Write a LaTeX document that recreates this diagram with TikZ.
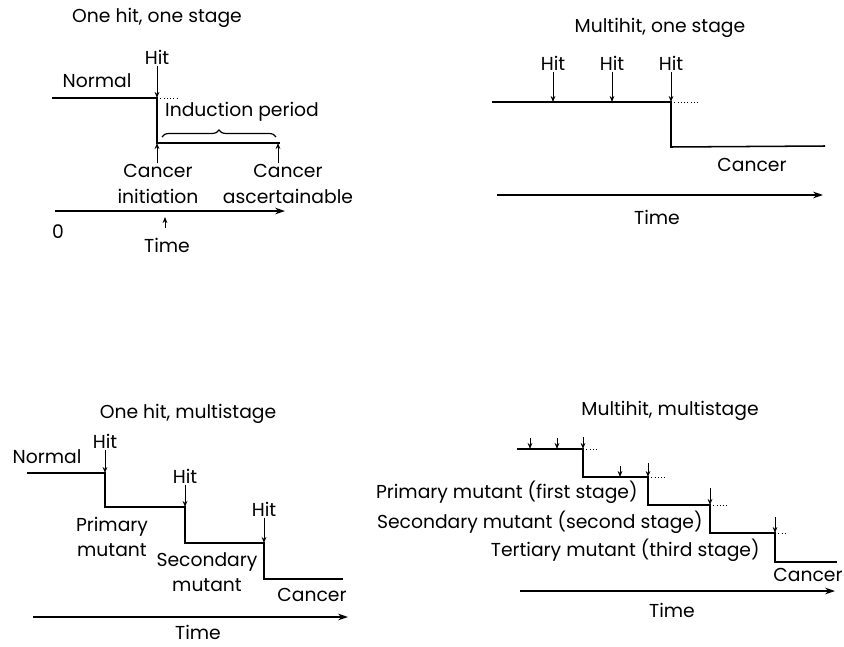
\documentclass[tikz,border=0pt]{standalone}
\usepackage{fontspec}
\setmainfont{Poppins}
\usetikzlibrary{arrows.meta,positioning,decorations.pathreplacing}

\begin{document}
\begin{tikzpicture}[
    x=0.03cm, y=-0.03cm,
    rotulo/.style={font=\fontsize{16}{21.5}\selectfont, align=center, inner sep=1pt},
    nivel/.style={line width=1.3pt},
    pontilhado/.style={dotted, line width=0.8pt},
    impacto/.style={-{Stealth[length=1.8mm, width=1.4mm]}, line width=0.75pt},
    eixo/.style={-{Stealth[length=3mm, width=2mm]}, line width=1.3pt},
    chave/.style={decorate, decoration={brace, amplitude=6pt}, line width=1pt}
]
    \useasboundingbox (0,0) rectangle (844,646);

    % one hit, one stage
    \node[rotulo] (titulo1) at (157,18) {One hit, one stage};
    \node[rotulo] (hit1) at (157,57) {Hit};
    \node[rotulo] (normal1) at (97,81) {Normal};
    \coordinate (n1a) at (52,98);
    \coordinate (n1b) at (157,98);
    \coordinate (c1a) at (157,143);
    \coordinate (c1b) at (280,143);
    \coordinate (asc1) at (278,143);
    \draw[nivel] (n1a) -- (n1b) -- (c1a) -- (c1b);
    \draw[pontilhado] (n1b) -- ++(21,0);
    \draw[impacto] (hit1.south) -- (n1b);
    \draw[chave] (162,137) -- (276,137);
    \node[rotulo] (inducao1) at (242,112) {Induction period};
    \node[rotulo] (inicio1) at (158,184) {Cancer\\initiation};
    \node[rotulo] (verif1) at (288,184) {Cancer\\ascertainable};
    \draw[impacto] (inicio1.north -| c1a) -- (c1a);
    \draw[impacto] (verif1.north -| asc1) -- (asc1);
    \coordinate (t1a) at (55,211);
    \coordinate (t1b) at (285,211);
    \draw[eixo] (t1a) -- (t1b);
    \node[rotulo] (zero1) at (58,232) {0};
    \coordinate (marca1a) at (165,228);
    \coordinate (marca1b) at (165,217);
    \draw[impacto] (marca1a) -- (marca1b);
    \node[rotulo] (tempo1) at (167,245) {Time};

    % multihit, one stage
    \node[rotulo] (titulo2) at (660,28) {Multihit, one stage};
    \foreach \x/\nome in {553/a,612/b,671/c} {
        \node[rotulo] (hit2\nome) at (\x,63) {Hit};
        \coordinate (p2\nome) at (\x,102);
        \draw[impacto] (hit2\nome.south) -- (p2\nome);
    }
    \coordinate (n2a) at (492,102);
    \coordinate (c2a) at (671,147);
    \coordinate (c2b) at (825,146);
    \draw[nivel] (n2a) -- (p2c) -- (c2a) -- (c2b);
    \draw[pontilhado] (p2c) -- ++(27,0);
    \node[rotulo] (cancer2) at (752,165) {Cancer};
    \coordinate (t2a) at (497,195);
    \coordinate (t2b) at (823,195);
    \draw[eixo] (t2a) -- (t2b);
    \node[rotulo] (tempo2) at (657,217) {Time};

    % one hit, multistage
    \node[rotulo] (titulo3) at (188,414) {One hit, multistage};
    \node[rotulo] (normal3) at (47,457) {Normal};
    \node[rotulo] (hit3a) at (105,441) {Hit};
    \node[rotulo] (hit3b) at (185,476) {Hit};
    \node[rotulo] (hit3c) at (264,509) {Hit};
    \coordinate (e3a) at (27,473);
    \coordinate (e3b) at (105,473);
    \coordinate (e3c) at (105,507);
    \coordinate (e3d) at (185,507);
    \coordinate (e3e) at (185,543);
    \coordinate (e3f) at (264,543);
    \coordinate (e3g) at (264,579);
    \coordinate (e3h) at (343,579);
    \draw[nivel] (e3a) -- (e3b) -- (e3c) -- (e3d) -- (e3e) -- (e3f) -- (e3g) -- (e3h);
    \draw[impacto] (hit3a.south) -- (e3b);
    \draw[impacto] (hit3b.south) -- (e3d);
    \draw[impacto] (hit3c.south) -- (e3f);
    \node[rotulo] (primario3) at (112,537) {Primary\\mutant};
    \node[rotulo] (secundario3) at (207,572) {Secondary\\mutant};
    \node[rotulo] (cancer3) at (312,595) {Cancer};
    \coordinate (t3a) at (33,617);
    \coordinate (t3b) at (348,617);
    \draw[eixo] (t3a) -- (t3b);
    \node[rotulo] (tempo3) at (198,632) {Time};

    % multihit, multistage
    \node[rotulo] (titulo4) at (670,411) {Multihit, multistage};
    \coordinate (e4a) at (517,449);
    \coordinate (e4b) at (583,449);
    \coordinate (e4c) at (583,477);
    \coordinate (e4d) at (648,477);
    \coordinate (e4e) at (648,505);
    \coordinate (e4f) at (710,505);
    \coordinate (e4g) at (710,533);
    \coordinate (e4h) at (775,533);
    \coordinate (e4i) at (775,562);
    \coordinate (e4j) at (837,562);
    \draw[nivel] (e4a) -- (e4b) -- (e4c) -- (e4d) -- (e4e) -- (e4f) -- (e4g) -- (e4h) -- (e4i) -- (e4j);
    \foreach \x/\y/\h in {530/449/11,557/449/11,583/449/12,620/477/11,648/477/14,710/505/17,775/533/16} {
        \coordinate (m4a) at (\x,\y-\h);
        \coordinate (m4b) at (\x,\y);
        \draw[impacto] (m4a) -- (m4b);
    }
    \foreach \p/\c in {e4b/15,e4d/17,e4f/18,e4h/13}
        \draw[pontilhado] (\p) -- ++(\c,0);
    \node[rotulo, anchor=east] (primario4) at (639,492) {Primary mutant (first stage)};
    \node[rotulo, anchor=east] (secundario4) at (704,522) {Secondary mutant (second stage)};
    \node[rotulo, anchor=east] (terciario4) at (761,550) {Tertiary mutant (third stage)};
    \node[rotulo] (cancer4) at (808,575) {Cancer};
    \coordinate (t4a) at (520,591);
    \coordinate (t4b) at (835,591);
    \draw[eixo] (t4a) -- (t4b);
    \node[rotulo] (tempo4) at (672,610) {Time};
\end{tikzpicture}
\end{document}
